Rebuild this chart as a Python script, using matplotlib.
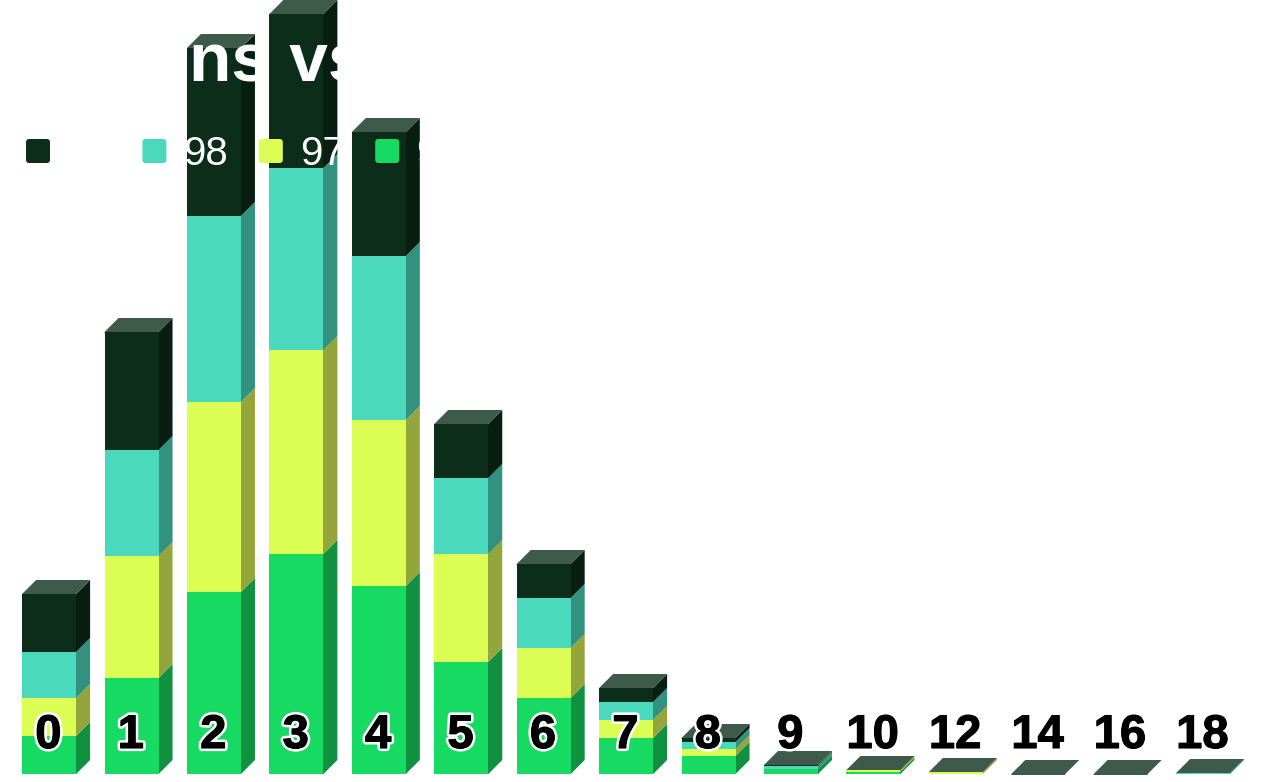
import matplotlib
matplotlib.use('Agg')
import matplotlib.pyplot as plt
import matplotlib.patheffects as pe
from matplotlib.patches import Polygon, FancyBboxPatch

plt.rcParams['font.family'] = ['Liberation Sans', 'DejaVu Sans']

categories = ['0', '1', '2', '3', '4', '5', '6', '7', '8', '9', '10', '12', '14', '16', '18']
series_names = ['99', '98', '97', '96']

# values, bottom of the stack first
s96 = [19, 48, 91, 110, 94, 56, 38, 18, 9, 2.5, 1, 0, 0, 0, 0]
s97 = [19, 61, 95, 102, 83, 54, 25, 9, 3.5, 0, 1, 1, 0, 0, 0]
s98 = [23, 53, 93, 91, 82, 38, 25, 9, 3.5, 1.5, 0, 0, 0, 0, 0.5]
s99 = [29, 59, 84, 77, 62, 27, 17, 7, 2, 0.5, 0, 0, 0, 0, 0]

stack = [s96, s97, s98, s99]
front_cols = ['#17da62', '#dcfe54', '#4ad9bd', '#0b2d1a']
side_cols = ['#0f9140', '#94a53b', '#339180', '#071e11']
top_col = '#3e5a4a'
legend_cols = ['#0b2d1a', '#4ad9bd', '#dcfe54', '#17da62']

W, H = 1264, 782
STEP = 82.43      # px per category
UNIT = 2.0        # px per value
BAR_W = 54 / STEP
DX = 14 / STEP
DY = 14 / UNIT
SEAM = 1 / STEP   # side faces run a little under the front to hide the seam

fig = plt.figure(figsize=(W / 100, H / 100), dpi=100, facecolor='white')

ax = fig.add_axes([0, 0, 1, 1])
ax.set_xlim(-49.1 / STEP, (W - 49.1) / STEP)
ax.set_ylim(-(H - 774) / UNIT, 774 / UNIT)
ax.axis('off')

for i in range(len(categories)):
    left = i - BAR_W / 2
    right = i + BAR_W / 2
    bottom = 0
    for vals, fc, sc in zip(stack, front_cols, side_cols):
        v = vals[i]
        if v == 0:
            continue
        ax.bar(i, v, BAR_W, bottom=bottom, color=fc, linewidth=0, zorder=2)
        ax.add_patch(Polygon([(right - SEAM, bottom), (right, bottom), (right + DX, bottom + DY),
                              (right + DX, bottom + v + DY), (right, bottom + v), (right - SEAM, bottom + v)],
                             closed=True, facecolor=sc, linewidth=0, zorder=1))
        bottom += v
    ax.add_patch(Polygon([(left, bottom - 0.5), (right, bottom - 0.5), (right, bottom),
                          (right + DX, bottom + DY), (left + DX, bottom + DY), (left, bottom)],
                         closed=True, facecolor=top_col, linewidth=0, zorder=1.5))
    ax.text(i - 0.008, 19, categories[i], ha='center', va='center', fontsize=34,
            fontweight='bold', color='black', zorder=5,
            path_effects=[pe.Stroke(linewidth=4.5, foreground='white'),
                          pe.Stroke(linewidth=0.8, foreground='black'),
                          pe.Normal()])

# title and legend sit on top in pixel coordinates, white text like the original
over = fig.add_axes([0, 0, 1, 1], facecolor='none')
over.set_xlim(0, W)
over.set_ylim(H, 0)
over.axis('off')

over.text(189, 82, 'ns vs', fontsize=50, fontweight='bold', color='white',
          ha='left', va='baseline')

for k, (name, col) in enumerate(zip(series_names, legend_cols)):
    x0 = 26 + 116.4 * k
    over.add_patch(FancyBboxPatch((x0 + 2, 141), 20, 20, boxstyle='round,pad=2,rounding_size=3',
                                  facecolor=col, linewidth=0))
    over.text(x0 + 41, 150, name, fontsize=29, color='white',
              ha='left', va='center_baseline')

fig.savefig('out.png', dpi=100)
